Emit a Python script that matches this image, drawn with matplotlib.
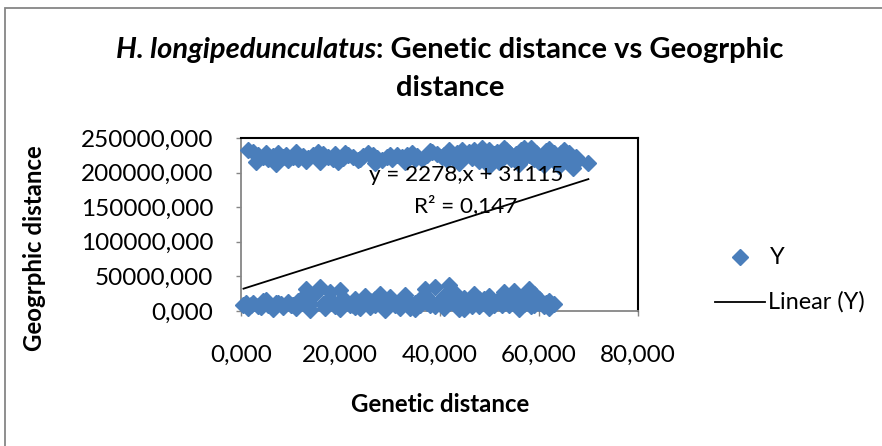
import matplotlib
matplotlib.use("Agg")
import matplotlib.pyplot as plt
from matplotlib.patches import Rectangle
from matplotlib.lines import Line2D
from matplotlib.ticker import FuncFormatter, MultipleLocator

# Pairwise distances: genetic (x) against geographic (y)
upper_x = [1.5, 2.5, 3.5, 4.5, 5.5, 6.5, 7.5, 8.5, 9.5, 10.5, 11.5, 12.5, 13.5, 14.5,
           15.5, 16.5, 17.5, 18.5, 19.5, 20.5, 21.5, 22.5, 23.5, 24.5, 25.5, 26.5,
           27.5, 28.5, 29.5, 30.5, 31.5, 32.5, 33.5, 34.5, 35.5, 36.5, 37.5, 38.5,
           39.5, 40.5, 41.5, 42.5, 43.5, 44.5, 45.5, 46.5, 47.5, 48.5, 49.5, 50.5,
           51.5, 52.5, 53.5, 54.5, 55.5, 56.5, 57.5, 58.5, 59.5, 60.5, 61.5, 62.5,
           63.5, 64.5, 65.5, 66.5, 67.5, 68.0, 70.0,
           42, 44, 46, 48, 50, 52, 54, 56, 58, 60, 62, 64, 66, 50, 53, 57, 61, 65, 67,
           3, 7, 11, 16, 21, 27, 33, 38,
           41, 43, 45, 47, 49, 51, 55, 59, 63, 66.5, 5, 9, 13, 19, 24, 30, 35]
upper_y = [232000, 230000, 226000, 222000, 220000, 224000, 228000, 222000, 218000,
           223000, 219000, 224000, 221000, 226000, 230000, 227000, 222000, 219000,
           216000, 221000, 225000, 222000, 218000, 224000, 228000, 225000, 221000,
           218000, 223000, 220000, 225000, 222000, 226000, 229000, 224000, 220000,
           226000, 230000, 227000, 222000, 218000, 224000, 228000, 232000, 226000,
           221000, 229000, 236000, 228000, 222000, 230000, 225000, 232000, 219000,
           227000, 233000, 224000, 236000, 229000, 222000, 231000, 226000, 218000,
           228000, 221000, 214000, 222000, 218000, 214000,
           233000, 214000, 230000, 217000, 233000, 215000, 228000, 213000, 226000,
           215000, 234000, 210000, 229000, 210000, 235000, 236000, 211000, 233000, 206000,
           215000, 213000, 230000, 215000, 228000, 214000, 216000, 231000,
           226000, 220000, 224000, 232000, 219000, 227000, 222000, 220000, 229000,
           224000, 228000, 225000, 217000, 227000, 220000, 226000, 219000]

lower_x = [0.5, 1.5, 2.5, 3.5, 4.5, 5.5, 6.5, 7.5, 8.5, 9.5, 10.5, 11.5, 12.5, 13.0,
           14.0, 15.0, 16.0, 17.0, 18.0, 19.0, 20.0, 21.0, 22.0, 23.0, 24.0, 25.0,
           26.0, 27.0, 28.0, 29.0, 30.0, 31.0, 32.0, 33.0, 34.0, 35.0, 36.0, 37.0,
           38.0, 39.0, 40.0, 41.0, 42.0, 43.0, 44.0, 45.0, 46.0, 47.0, 48.0, 49.0,
           50.0, 51.0, 52.0, 53.0, 54.0, 55.0, 56.0, 57.0, 58.0, 59.0, 60.0, 61.0,
           62.0, 63.0,
           2, 5, 8, 11, 14, 17, 20, 23, 26, 29, 32, 35, 38, 41, 44, 47, 50, 53, 56,
           59, 62, 12, 18, 24, 30, 36, 42, 48, 54, 60, 45, 33,
           1, 4, 7, 10, 13.5, 16.5, 19.5, 22.5, 25.5, 28.5, 31.5, 34.5, 37.5, 40.5,
           43.5, 46.5, 49.5, 52.5, 55.5, 58.5, 61.5, 27, 39, 51, 57]
lower_y = [8000, 4000, 12000, 7000, 14000, 9000, 3000, 11000, 6000, 13000, 8000, 15000,
           20000, 32000, 10000, 25000, 35000, 12000, 28000, 7000, 31000, 16000, 9000,
           18000, 13000, 22000, 6000, 17000, 25000, 11000, 20000, 8000, 15000, 23000,
           4000, 12000, 18000, 32000, 9000, 34000, 14000, 21000, 37000, 27000, 10000,
           19000, 13000, 24000, 7000, 17000, 21000, 11000, 18000, 27000, 8000, 29000,
           15000, 20000, 32000, 24000, 12000, 7000, 14000, 10000,
           9000, 16000, 10000, 4000, 2000, 5000, 3000, 6000, 14000, 2000, 5000, 3000,
           16000, 5000, 3000, 14000, 4000, 12000, 3000, 9000, 5000, 16000, 17000,
           4000, 10000, 8000, 12000, 18000, 16000, 18000, 3000, 12000,
           11000, 6000, 12000, 9000, 7000, 10000, 12000, 8000, 10000, 7000, 11000,
           9000, 12000, 8000, 10000, 7000, 11000, 8000, 10000, 7000, 11000, 9000,
           7000, 8000, 10000]

# Least-squares trend line as reported in the chart
slope = 2278.0
intercept = 31115.0
r_squared = 0.147

BLUE = "#4A7EBB"
GRAY = "#868686"
plt.rcParams["font.family"] = ["Lato", "DejaVu Sans"]

W, H = 882, 446
fig = plt.figure(figsize=(W / 100, H / 100), dpi=100)


def fx(px):
    return px / W


def fy(py):
    return 1 - py / H


# outer chart frame
fig.patches.append(Rectangle((fx(5), -0.2), 1.2, 1.2 - 8 / H, transform=fig.transFigure,
                             fill=False, edgecolor=GRAY, linewidth=1.3))

ax = fig.add_axes([fx(241), fy(311), (638 - 241) / W, (311 - 138) / H])

xs = upper_x + lower_x
ys = upper_y + lower_y
ax.plot(xs, ys, linestyle="none", marker="D", markersize=8.5, color=BLUE,
        markeredgecolor=BLUE, clip_on=False, zorder=3)

x0, x1 = min(xs), max(xs)
ax.plot([x0, x1], [slope * x0 + intercept, slope * x1 + intercept],
        color="black", linewidth=1.3, zorder=4)

ax.set_xlim(0, 80)
ax.set_ylim(0, 250000)
ax.xaxis.set_major_locator(MultipleLocator(20))
ax.yaxis.set_major_locator(MultipleLocator(50000))
fmt = FuncFormatter(lambda v, p: f"{v:.3f}".replace(".", ","))
ax.xaxis.set_major_formatter(fmt)
ax.yaxis.set_major_formatter(fmt)
ax.tick_params(axis="both", direction="out", length=3.6, width=1, color=GRAY,
               labelsize=17.5)
ax.tick_params(axis="x", pad=21)
ax.tick_params(axis="y", pad=16.5)

for s in ("top", "right"):
    ax.spines[s].set_color("black")
    ax.spines[s].set_linewidth(1.5)
for s in ("left", "bottom"):
    ax.spines[s].set_color(GRAY)
    ax.spines[s].set_linewidth(1.3)

eq1 = f"y = {slope:.0f},x + {intercept:.0f}"
eq2 = f"R² = {r_squared:.3f}".replace(".", ",")
fig.text(fx(466), fy(175), eq1, fontsize=16.2, ha="center", va="center", zorder=5)
fig.text(fx(466), fy(206), eq2, fontsize=16.2, ha="center", va="center", zorder=5)

# title with italic species name
TS = 21
t1a = "H. longipedunculatus"
t1b = ": Genetic distance vs Geogrphic"
r = fig.canvas.get_renderer()
ta = fig.text(0, fy(50), t1a, fontsize=TS, fontweight="bold", style="italic",
              ha="left", va="center")
tb = fig.text(0, fy(50), t1b, fontsize=TS, fontweight="bold", ha="left", va="center")
wa = ta.get_window_extent(r).width
wb = tb.get_window_extent(r).width
left = 450 - (wa + wb) / 2
ta.set_x(fx(left))
tb.set_x(fx(left + wa))
fig.text(fx(450), fy(88), "distance", fontsize=TS, fontweight="bold",
         ha="center", va="center")

fig.text(fx(440), fy(404), "Genetic distance", fontsize=17.3, fontweight="bold",
         ha="center", va="center")
fig.text(fx(35), fy(248), "Geogrphic distance", fontsize=17.3, fontweight="bold",
         ha="center", va="center", rotation=90)

# legend entries
fig.lines.append(Line2D([fx(740)], [fy(257)], transform=fig.transFigure,
                        marker="D", markersize=8.5, color=BLUE, linestyle="none"))
fig.text(fx(770), fy(257), "Y", fontsize=16.9, ha="left", va="center")
fig.lines.append(Line2D([fx(715), fx(765)], [fy(302), fy(302)],
                        transform=fig.transFigure, color="black", linewidth=1.3))
fig.text(fx(768), fy(302), "Linear (Y)", fontsize=16.9, ha="left", va="center")

fig.savefig("out.png", dpi=100)
